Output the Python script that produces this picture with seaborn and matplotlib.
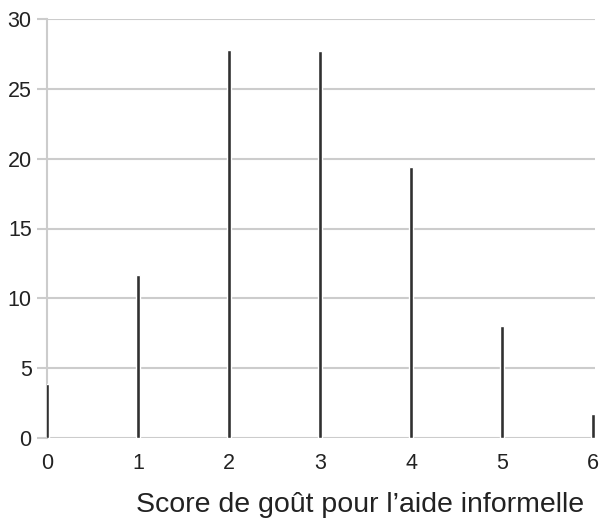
import matplotlib
matplotlib.use("Agg")
import matplotlib.pyplot as plt
import seaborn as sns
import pandas as pd

scores = [0, 1, 2, 3, 4, 5, 6]
values = [3.9, 11.7, 27.8, 27.7, 19.4, 8.0, 1.7]
y_ticks = [0, 5, 10, 15, 20, 25, 30]
x_label = "Score de goût pour l’aide informelle"

sns.set_style("white")
plt.rcParams['font.family'] = ['Liberation Sans', 'DejaVu Sans']

df = pd.DataFrame({"score": scores, "value": values})

fig = plt.figure(figsize=(6.0, 5.22), dpi=100)
ax = fig.add_axes([47/600, 1-438/522, (595-47)/600, (438-19)/522])

sns.barplot(data=df, x="score", y="value", native_scale=True, width=0.045,
            color="#303030", saturation=1, ax=ax, zorder=3)

ax.set_xlim(0, 6.02)
ax.set_ylim(0, 30)
ax.set_yticks(y_ticks)
ax.set_xticks(scores)
ax.set_xticklabels([str(s) for s in scores])
ax.yaxis.grid(True, color="#cccccc", linewidth=1.5, zorder=0)
ax.xaxis.grid(False)
for s in ["top", "right", "bottom"]:
    ax.spines[s].set_visible(False)
ax.spines["left"].set_color("#cccccc")
ax.spines["left"].set_linewidth(1.5)
ax.tick_params(axis="y", length=7, width=1.5, color="#cccccc", labelsize=15.5,
               labelcolor="#222222", pad=4, left=True)
ax.tick_params(axis="x", length=0, labelsize=15.5, labelcolor="#222222", pad=11)
ax.set_ylabel("")
ax.set_xlabel(x_label, fontsize=20.5, color="#222222")
ax.xaxis.set_label_coords((360 - 47) / 548, (438 - 492) / 419)
ax.xaxis.label.set_va("top")

fig.savefig("out.png", dpi=100)
